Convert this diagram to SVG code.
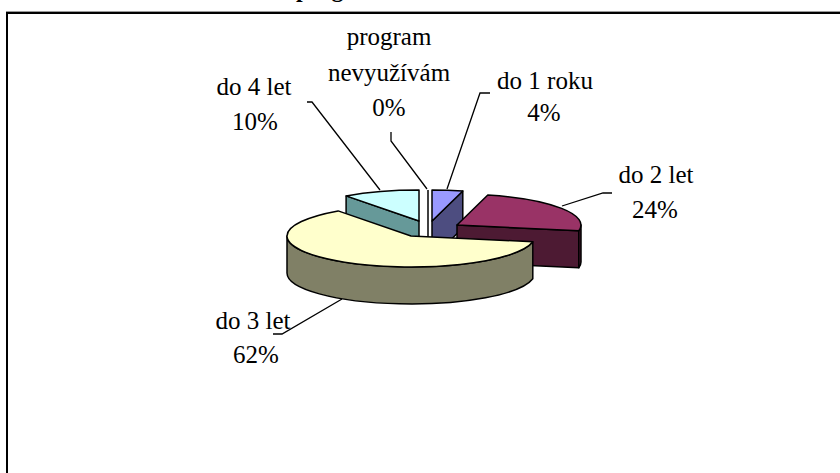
<svg xmlns="http://www.w3.org/2000/svg" width="840" height="473" viewBox="0 0 840 473">
<style>
.lbl text{font-size:25px;fill:#000;text-anchor:middle}
.t{font-weight:bold;font-size:24px}
.e{stroke:#000;stroke-width:1.5;stroke-linejoin:round}
.lead{fill:none;stroke:#000;stroke-width:1.3}
</style>
<rect x="0" y="0" width="840" height="473" fill="#fff"/>
<text class="t" x="296" y="-3" font-family="'Liberation Serif', 'DejaVu Serif', serif">program</text>
<line x1="6" y1="11.5" x2="840" y2="11.5" stroke="#999" stroke-width="1"/>
<rect x="7" y="13" width="860" height="490" fill="#fff" stroke="#000" stroke-width="2"/>
<g id="slice-do4let">
<path class="e" fill="#669999" d="M419,221 L346.1,195.9 L346.1,232.9 L419,258 Z"/>
<path class="e" fill="#CCFFFF" d="M419,221 L346.1,195.9 A124 31 0 0 1 419,190 Z"/>
</g>
<g id="slice-nevyuzivam">
<line class="e" x1="428" y1="190" x2="428" y2="258"/>
</g>
<g id="slice-do1roku">
<path class="e" fill="#4D4D80" d="M432,221 L462.8,191 L462.8,228 L432,258 Z"/>
<path class="e" fill="#9999FF" d="M432,221 L432,190 A124 31 0 0 1 462.8,191 Z"/>
</g>
<g id="slice-do2let">
<path class="e" fill="#4D1A33" d="M457,225 L578.8,230.8 L578.8,267.8 L457,262 Z"/>
<path class="e" fill="#4D1A33" d="M581,225 A124 31 0 0 1 578.8,230.8 L578.8,267.8 A124 31 0 0 0 581,262 Z"/>
<path class="e" fill="#993366" d="M457,225 L487.8,195 A124 31 0 0 1 578.8,230.8 Z"/>
</g>
<g id="slice-do3let">
<path class="e" fill="#808066" d="M532.8,241.8 A124 31 0 0 1 287,236 L287,273 A124 31 0 0 0 532.8,278.8 Z"/>
<path class="e" fill="#FFFFCC" d="M411,236 L532.8,241.8 A124 31 0 1 1 338.1,210.9 Z"/>
</g>
<g id="connectors">
<polyline class="lead" points="307,102 312,102 380,190"/>
<polyline class="lead" points="391,132 391,141 427,189"/>
<polyline class="lead" points="490,93 480,93 447,189"/>
<polyline class="lead" points="612,193 603,193 562,206"/>
<polyline class="lead" points="273,334 282,334 342,299"/>
</g>
<g class="lbl" font-family="'Liberation Serif', 'DejaVu Serif', serif">
<g id="label-do4let"><text x="254" y="95">do 4 let</text><text x="255" y="130">10%</text></g>
<g id="label-nevyuzivam"><text x="389" y="45">program</text><text x="389" y="81">nevyužívám</text><text x="389" y="116">0%</text></g>
<g id="label-do1roku"><text x="545" y="89">do 1 roku</text><text x="544" y="121">4%</text></g>
<g id="label-do2let"><text x="656" y="183">do 2 let</text><text x="655" y="218">24%</text></g>
<g id="label-do3let"><text x="253" y="329">do 3 let</text><text x="256" y="363">62%</text></g>
</g>
</svg>
